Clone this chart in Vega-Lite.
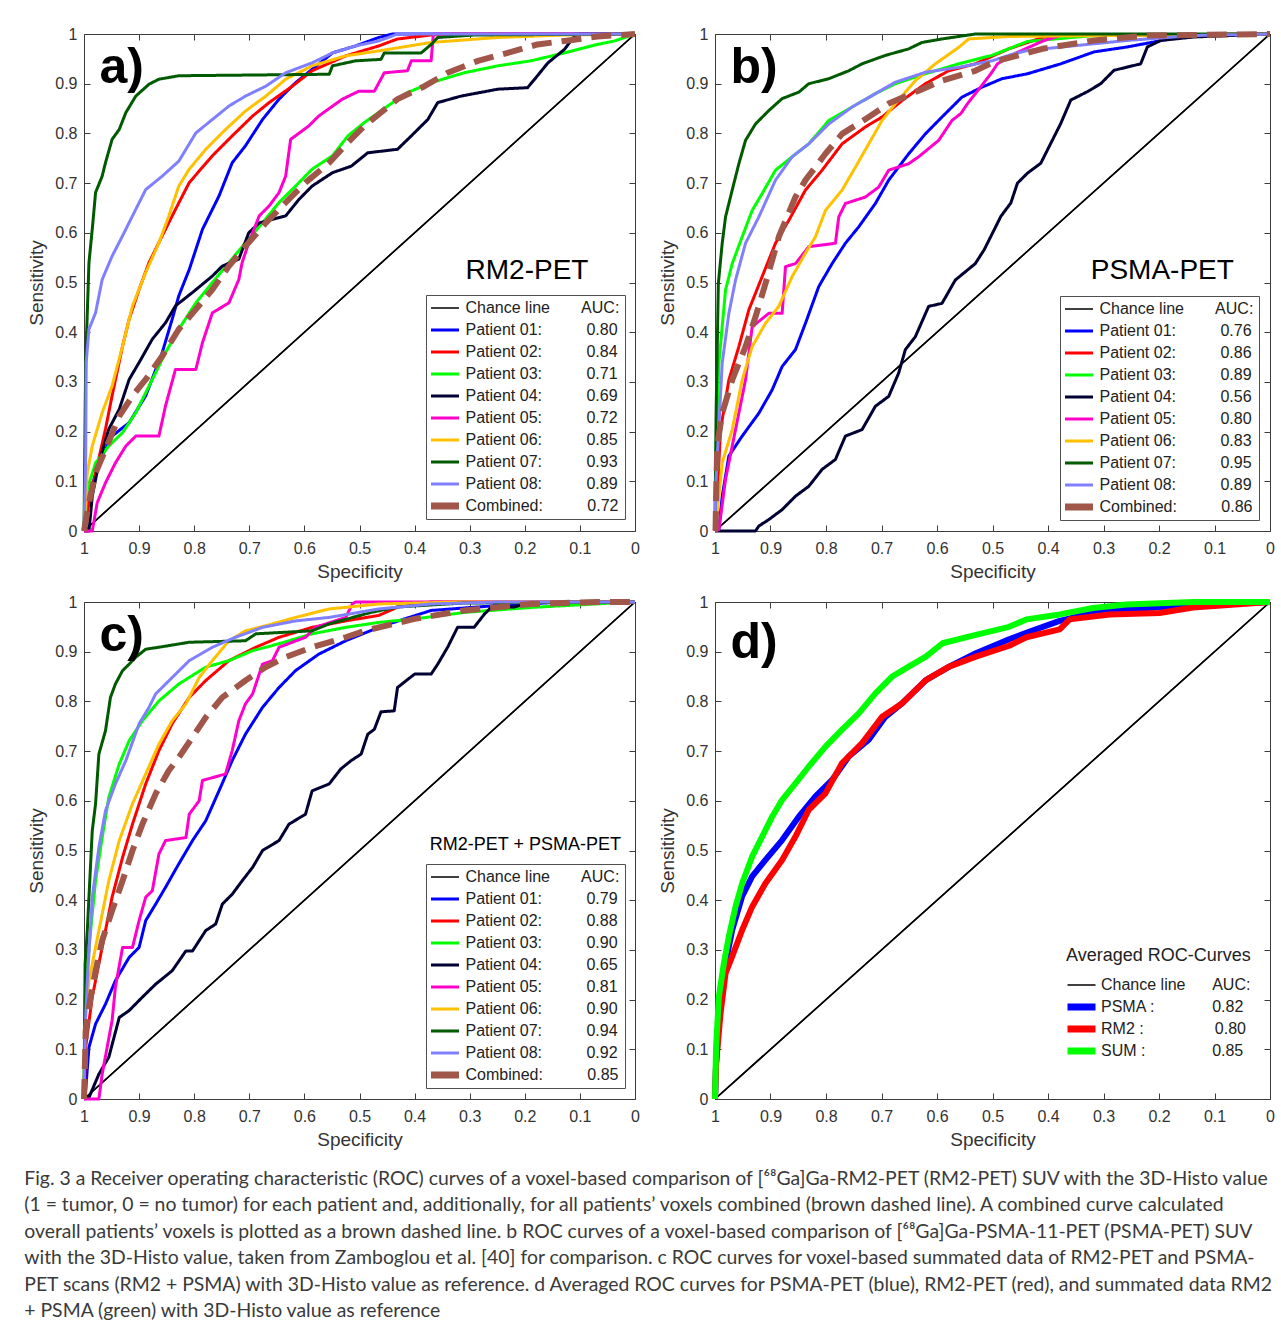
{
"$schema": "https://vega.github.io/schema/vega-lite/v6.json",
"background": "white",
"padding": {"left": 24, "top": 25, "right": 5, "bottom": 10},
"config": {
 "font": "Liberation Sans",
 "view": {"stroke": "#3c3c3c", "strokeWidth": 1},
 "axis": {"domain": false, "grid": false, "ticks": true, "tickSize": -6, "tickColor": "#3c3c3c", "tickWidth": 1, "labelFont": "Liberation Sans", "labelFontSize": 16, "labelColor": "#333333", "titleFont": "Liberation Sans", "titleFontSize": 19, "titleFontWeight": "normal", "titleColor": "#333333", "labelOverlap": false, "labelFlush": false},
 "axisX": {"labelPadding": 15, "titlePadding": 6},
 "axisY": {"labelPadding": 13, "titlePadding": 8},
 "legend": {"labelFont": "Liberation Sans", "labelFontSize": 16, "labelColor": "#222222", "labelLimit": 400, "titleLimit": 400, "symbolType": "stroke", "symbolSize": 784, "symbolStrokeWidth": 3, "clipHeight": 16, "rowPadding": 6, "titleFont": "Liberation Sans"},
 "line": {"strokeJoin": "round"}
},
"title": {
 "text": [
  "Fig. 3 a Receiver operating characteristic (ROC) curves of a voxel-based comparison of [⁶⁸Ga]Ga-RM2-PET (RM2-PET) SUV with the 3D-Histo value",
  "(1 = tumor, 0 = no tumor) for each patient and, additionally, for all patients’ voxels combined (brown dashed line). A combined curve calculated",
  "overall patients’ voxels is plotted as a brown dashed line. b ROC curves of a voxel-based comparison of [⁶⁸Ga]Ga-PSMA-11-PET (PSMA-PET) SUV",
  "with the 3D-Histo value, taken from Zamboglou et al. [40] for comparison. c ROC curves for voxel-based summated data of RM2-PET and PSMA-",
  "PET scans (RM2 + PSMA) with 3D-Histo value as reference. d Averaged ROC curves for PSMA-PET (blue), RM2-PET (red), and summated data RM2",
  "+ PSMA (green) with 3D-Histo value as reference"
 ],
 "orient": "bottom", "anchor": "start", "frame": "bounds", "font": "Lato", "fontSize": 19.4, "fontWeight": "normal", "color": "#3a3a3a", "lineHeight": 26.5, "offset": 20, "dx": -3
},
"datasets": {"roc": [
{"g":"a","k":"CH","x":1,"y":0},{"g":"a","k":"CH","x":0,"y":1},
{"g":"a","k":"P01","x":1,"y":0},{"g":"a","k":"P01","x":0.991,"y":0.07},{"g":"a","k":"P01","x":0.973,"y":0.137},{"g":"a","k":"P01","x":0.949,"y":0.191},{"g":"a","k":"P01","x":0.918,"y":0.218},{"g":"a","k":"P01","x":0.888,"y":0.272},{"g":"a","k":"P01","x":0.858,"y":0.359},{"g":"a","k":"P01","x":0.84,"y":0.426},{"g":"a","k":"P01","x":0.828,"y":0.473},{"g":"a","k":"P01","x":0.809,"y":0.526},{"g":"a","k":"P01","x":0.785,"y":0.607},{"g":"a","k":"P01","x":0.755,"y":0.674},{"g":"a","k":"P01","x":0.731,"y":0.741},{"g":"a","k":"P01","x":0.707,"y":0.775},{"g":"a","k":"P01","x":0.676,"y":0.828},{"g":"a","k":"P01","x":0.646,"y":0.869},{"g":"a","k":"P01","x":0.616,"y":0.902},{"g":"a","k":"P01","x":0.586,"y":0.929},{"g":"a","k":"P01","x":0.549,"y":0.962},{"g":"a","k":"P01","x":0.507,"y":0.976},{"g":"a","k":"P01","x":0.465,"y":0.993},{"g":"a","k":"P01","x":0.44,"y":1},{"g":"a","k":"P01","x":0,"y":1},
{"g":"a","k":"P02","x":1,"y":0},{"g":"a","k":"P02","x":0.991,"y":0.057},{"g":"a","k":"P02","x":0.979,"y":0.117},{"g":"a","k":"P02","x":0.961,"y":0.205},{"g":"a","k":"P02","x":0.949,"y":0.272},{"g":"a","k":"P02","x":0.93,"y":0.372},{"g":"a","k":"P02","x":0.918,"y":0.426},{"g":"a","k":"P02","x":0.9,"y":0.486},{"g":"a","k":"P02","x":0.882,"y":0.54},{"g":"a","k":"P02","x":0.858,"y":0.594},{"g":"a","k":"P02","x":0.834,"y":0.647},{"g":"a","k":"P02","x":0.809,"y":0.701},{"g":"a","k":"P02","x":0.767,"y":0.755},{"g":"a","k":"P02","x":0.731,"y":0.795},{"g":"a","k":"P02","x":0.694,"y":0.835},{"g":"a","k":"P02","x":0.664,"y":0.862},{"g":"a","k":"P02","x":0.622,"y":0.895},{"g":"a","k":"P02","x":0.586,"y":0.926},{"g":"a","k":"P02","x":0.525,"y":0.956},{"g":"a","k":"P02","x":0.465,"y":0.976},{"g":"a","k":"P02","x":0.431,"y":0.99},{"g":"a","k":"P02","x":0.37,"y":0.998},{"g":"a","k":"P02","x":0.33,"y":1},{"g":"a","k":"P02","x":0,"y":1},
{"g":"a","k":"P03","x":1,"y":0},{"g":"a","k":"P03","x":0.994,"y":0.084},{"g":"a","k":"P03","x":0.979,"y":0.137},{"g":"a","k":"P03","x":0.955,"y":0.171},{"g":"a","k":"P03","x":0.93,"y":0.198},{"g":"a","k":"P03","x":0.906,"y":0.238},{"g":"a","k":"P03","x":0.876,"y":0.305},{"g":"a","k":"P03","x":0.852,"y":0.359},{"g":"a","k":"P03","x":0.828,"y":0.406},{"g":"a","k":"P03","x":0.797,"y":0.459},{"g":"a","k":"P03","x":0.767,"y":0.5},{"g":"a","k":"P03","x":0.737,"y":0.54},{"g":"a","k":"P03","x":0.707,"y":0.58},{"g":"a","k":"P03","x":0.676,"y":0.62},{"g":"a","k":"P03","x":0.646,"y":0.661},{"g":"a","k":"P03","x":0.616,"y":0.694},{"g":"a","k":"P03","x":0.586,"y":0.728},{"g":"a","k":"P03","x":0.549,"y":0.755},{"g":"a","k":"P03","x":0.521,"y":0.795},{"g":"a","k":"P03","x":0.491,"y":0.822},{"g":"a","k":"P03","x":0.449,"y":0.855},{"g":"a","k":"P03","x":0.413,"y":0.882},{"g":"a","k":"P03","x":0.37,"y":0.902},{"g":"a","k":"P03","x":0.31,"y":0.922},{"g":"a","k":"P03","x":0.249,"y":0.936},{"g":"a","k":"P03","x":0.189,"y":0.946},{"g":"a","k":"P03","x":0.128,"y":0.962},{"g":"a","k":"P03","x":0.068,"y":0.979},{"g":"a","k":"P03","x":0.037,"y":0.986},{"g":"a","k":"P03","x":0,"y":1},
{"g":"a","k":"P04","x":1,"y":0},{"g":"a","k":"P04","x":0.991,"y":0},{"g":"a","k":"P04","x":0.985,"y":0.07},{"g":"a","k":"P04","x":0.973,"y":0.137},{"g":"a","k":"P04","x":0.955,"y":0.205},{"g":"a","k":"P04","x":0.936,"y":0.245},{"g":"a","k":"P04","x":0.918,"y":0.305},{"g":"a","k":"P04","x":0.9,"y":0.339},{"g":"a","k":"P04","x":0.876,"y":0.386},{"g":"a","k":"P04","x":0.852,"y":0.419},{"g":"a","k":"P04","x":0.834,"y":0.453},{"g":"a","k":"P04","x":0.803,"y":0.48},{"g":"a","k":"P04","x":0.767,"y":0.513},{"g":"a","k":"P04","x":0.749,"y":0.533},{"g":"a","k":"P04","x":0.719,"y":0.547},{"g":"a","k":"P04","x":0.701,"y":0.6},{"g":"a","k":"P04","x":0.682,"y":0.62},{"g":"a","k":"P04","x":0.634,"y":0.634},{"g":"a","k":"P04","x":0.61,"y":0.667},{"g":"a","k":"P04","x":0.586,"y":0.694},{"g":"a","k":"P04","x":0.549,"y":0.721},{"g":"a","k":"P04","x":0.515,"y":0.734},{"g":"a","k":"P04","x":0.485,"y":0.761},{"g":"a","k":"P04","x":0.431,"y":0.768},{"g":"a","k":"P04","x":0.406,"y":0.795},{"g":"a","k":"P04","x":0.376,"y":0.828},{"g":"a","k":"P04","x":0.358,"y":0.862},{"g":"a","k":"P04","x":0.316,"y":0.875},{"g":"a","k":"P04","x":0.249,"y":0.889},{"g":"a","k":"P04","x":0.195,"y":0.892},{"g":"a","k":"P04","x":0.177,"y":0.916},{"g":"a","k":"P04","x":0.158,"y":0.942},{"g":"a","k":"P04","x":0.128,"y":0.969},{"g":"a","k":"P04","x":0.11,"y":0.996},{"g":"a","k":"P04","x":0.1,"y":1},{"g":"a","k":"P04","x":0,"y":1},
{"g":"a","k":"P05","x":1,"y":0},{"g":"a","k":"P05","x":0.985,"y":0},{"g":"a","k":"P05","x":0.976,"y":0.057},{"g":"a","k":"P05","x":0.961,"y":0.097},{"g":"a","k":"P05","x":0.943,"y":0.137},{"g":"a","k":"P05","x":0.924,"y":0.171},{"g":"a","k":"P05","x":0.906,"y":0.191},{"g":"a","k":"P05","x":0.864,"y":0.191},{"g":"a","k":"P05","x":0.852,"y":0.252},{"g":"a","k":"P05","x":0.834,"y":0.325},{"g":"a","k":"P05","x":0.797,"y":0.325},{"g":"a","k":"P05","x":0.785,"y":0.379},{"g":"a","k":"P05","x":0.767,"y":0.439},{"g":"a","k":"P05","x":0.737,"y":0.459},{"g":"a","k":"P05","x":0.719,"y":0.506},{"g":"a","k":"P05","x":0.713,"y":0.54},{"g":"a","k":"P05","x":0.701,"y":0.58},{"g":"a","k":"P05","x":0.682,"y":0.634},{"g":"a","k":"P05","x":0.664,"y":0.654},{"g":"a","k":"P05","x":0.646,"y":0.681},{"g":"a","k":"P05","x":0.634,"y":0.714},{"g":"a","k":"P05","x":0.625,"y":0.788},{"g":"a","k":"P05","x":0.592,"y":0.815},{"g":"a","k":"P05","x":0.574,"y":0.835},{"g":"a","k":"P05","x":0.531,"y":0.869},{"g":"a","k":"P05","x":0.501,"y":0.885},{"g":"a","k":"P05","x":0.473,"y":0.885},{"g":"a","k":"P05","x":0.455,"y":0.922},{"g":"a","k":"P05","x":0.413,"y":0.926},{"g":"a","k":"P05","x":0.406,"y":0.946},{"g":"a","k":"P05","x":0.37,"y":0.946},{"g":"a","k":"P05","x":0.366,"y":1},{"g":"a","k":"P05","x":0,"y":1},
{"g":"a","k":"P06","x":1,"y":0},{"g":"a","k":"P06","x":0.994,"y":0.117},{"g":"a","k":"P06","x":0.985,"y":0.171},{"g":"a","k":"P06","x":0.967,"y":0.238},{"g":"a","k":"P06","x":0.949,"y":0.292},{"g":"a","k":"P06","x":0.93,"y":0.372},{"g":"a","k":"P06","x":0.912,"y":0.453},{"g":"a","k":"P06","x":0.888,"y":0.52},{"g":"a","k":"P06","x":0.864,"y":0.58},{"g":"a","k":"P06","x":0.846,"y":0.634},{"g":"a","k":"P06","x":0.828,"y":0.694},{"g":"a","k":"P06","x":0.809,"y":0.728},{"g":"a","k":"P06","x":0.779,"y":0.768},{"g":"a","k":"P06","x":0.743,"y":0.808},{"g":"a","k":"P06","x":0.707,"y":0.845},{"g":"a","k":"P06","x":0.67,"y":0.875},{"g":"a","k":"P06","x":0.634,"y":0.909},{"g":"a","k":"P06","x":0.586,"y":0.936},{"g":"a","k":"P06","x":0.525,"y":0.956},{"g":"a","k":"P06","x":0.465,"y":0.966},{"g":"a","k":"P06","x":0.37,"y":0.983},{"g":"a","k":"P06","x":0.249,"y":0.993},{"g":"a","k":"P06","x":0.128,"y":0.998},{"g":"a","k":"P06","x":0,"y":1},
{"g":"a","k":"P07","x":1,"y":0},{"g":"a","k":"P07","x":0.997,"y":0.339},{"g":"a","k":"P07","x":0.991,"y":0.54},{"g":"a","k":"P07","x":0.985,"y":0.607},{"g":"a","k":"P07","x":0.979,"y":0.681},{"g":"a","k":"P07","x":0.967,"y":0.714},{"g":"a","k":"P07","x":0.961,"y":0.741},{"g":"a","k":"P07","x":0.949,"y":0.788},{"g":"a","k":"P07","x":0.936,"y":0.808},{"g":"a","k":"P07","x":0.924,"y":0.842},{"g":"a","k":"P07","x":0.906,"y":0.875},{"g":"a","k":"P07","x":0.882,"y":0.899},{"g":"a","k":"P07","x":0.864,"y":0.909},{"g":"a","k":"P07","x":0.828,"y":0.916},{"g":"a","k":"P07","x":0.555,"y":0.919},{"g":"a","k":"P07","x":0.549,"y":0.936},{"g":"a","k":"P07","x":0.507,"y":0.946},{"g":"a","k":"P07","x":0.461,"y":0.949},{"g":"a","k":"P07","x":0.455,"y":0.962},{"g":"a","k":"P07","x":0.388,"y":0.962},{"g":"a","k":"P07","x":0.37,"y":0.979},{"g":"a","k":"P07","x":0.358,"y":0.993},{"g":"a","k":"P07","x":0.292,"y":0.998},{"g":"a","k":"P07","x":0,"y":1},
{"g":"a","k":"P08","x":1,"y":0},{"g":"a","k":"P08","x":0.997,"y":0.137},{"g":"a","k":"P08","x":0.996,"y":0.339},{"g":"a","k":"P08","x":0.991,"y":0.406},{"g":"a","k":"P08","x":0.979,"y":0.439},{"g":"a","k":"P08","x":0.967,"y":0.506},{"g":"a","k":"P08","x":0.949,"y":0.553},{"g":"a","k":"P08","x":0.93,"y":0.594},{"g":"a","k":"P08","x":0.912,"y":0.634},{"g":"a","k":"P08","x":0.888,"y":0.687},{"g":"a","k":"P08","x":0.858,"y":0.714},{"g":"a","k":"P08","x":0.828,"y":0.744},{"g":"a","k":"P08","x":0.797,"y":0.801},{"g":"a","k":"P08","x":0.767,"y":0.828},{"g":"a","k":"P08","x":0.737,"y":0.855},{"g":"a","k":"P08","x":0.707,"y":0.875},{"g":"a","k":"P08","x":0.67,"y":0.895},{"g":"a","k":"P08","x":0.634,"y":0.922},{"g":"a","k":"P08","x":0.586,"y":0.942},{"g":"a","k":"P08","x":0.549,"y":0.962},{"g":"a","k":"P08","x":0.507,"y":0.976},{"g":"a","k":"P08","x":0.465,"y":0.986},{"g":"a","k":"P08","x":0.431,"y":1},{"g":"a","k":"P08","x":0,"y":1},
{"g":"a","k":"CB","x":1,"y":0},{"g":"a","k":"CB","x":0.991,"y":0.057},{"g":"a","k":"CB","x":0.979,"y":0.117},{"g":"a","k":"CB","x":0.961,"y":0.164},{"g":"a","k":"CB","x":0.936,"y":0.231},{"g":"a","k":"CB","x":0.912,"y":0.272},{"g":"a","k":"CB","x":0.888,"y":0.305},{"g":"a","k":"CB","x":0.858,"y":0.352},{"g":"a","k":"CB","x":0.828,"y":0.406},{"g":"a","k":"CB","x":0.797,"y":0.446},{"g":"a","k":"CB","x":0.767,"y":0.486},{"g":"a","k":"CB","x":0.737,"y":0.533},{"g":"a","k":"CB","x":0.707,"y":0.573},{"g":"a","k":"CB","x":0.67,"y":0.62},{"g":"a","k":"CB","x":0.634,"y":0.661},{"g":"a","k":"CB","x":0.598,"y":0.701},{"g":"a","k":"CB","x":0.555,"y":0.741},{"g":"a","k":"CB","x":0.521,"y":0.782},{"g":"a","k":"CB","x":0.491,"y":0.815},{"g":"a","k":"CB","x":0.461,"y":0.842},{"g":"a","k":"CB","x":0.431,"y":0.869},{"g":"a","k":"CB","x":0.382,"y":0.895},{"g":"a","k":"CB","x":0.34,"y":0.922},{"g":"a","k":"CB","x":0.285,"y":0.946},{"g":"a","k":"CB","x":0.231,"y":0.962},{"g":"a","k":"CB","x":0.177,"y":0.979},{"g":"a","k":"CB","x":0.128,"y":0.986},{"g":"a","k":"CB","x":0.068,"y":0.995},{"g":"a","k":"CB","x":0,"y":1},

{"g":"b","k":"CH","x":1,"y":0},{"g":"b","k":"CH","x":0,"y":1},
{"g":"b","k":"P01","x":1,"y":0},{"g":"b","k":"P01","x":0.993,"y":0.003},{"g":"b","k":"P01","x":0.987,"y":0.07},{"g":"b","k":"P01","x":0.975,"y":0.151},{"g":"b","k":"P01","x":0.951,"y":0.191},{"g":"b","k":"P01","x":0.921,"y":0.237},{"g":"b","k":"P01","x":0.897,"y":0.284},{"g":"b","k":"P01","x":0.879,"y":0.331},{"g":"b","k":"P01","x":0.855,"y":0.365},{"g":"b","k":"P01","x":0.837,"y":0.418},{"g":"b","k":"P01","x":0.813,"y":0.492},{"g":"b","k":"P01","x":0.789,"y":0.538},{"g":"b","k":"P01","x":0.765,"y":0.579},{"g":"b","k":"P01","x":0.741,"y":0.612},{"g":"b","k":"P01","x":0.711,"y":0.659},{"g":"b","k":"P01","x":0.687,"y":0.706},{"g":"b","k":"P01","x":0.651,"y":0.759},{"g":"b","k":"P01","x":0.621,"y":0.799},{"g":"b","k":"P01","x":0.591,"y":0.833},{"g":"b","k":"P01","x":0.555,"y":0.873},{"g":"b","k":"P01","x":0.519,"y":0.893},{"g":"b","k":"P01","x":0.483,"y":0.91},{"g":"b","k":"P01","x":0.437,"y":0.92},{"g":"b","k":"P01","x":0.377,"y":0.94},{"g":"b","k":"P01","x":0.317,"y":0.964},{"g":"b","k":"P01","x":0.257,"y":0.974},{"g":"b","k":"P01","x":0.209,"y":0.984},{"g":"b","k":"P01","x":0.167,"y":0.994},{"g":"b","k":"P01","x":0.137,"y":0.997},{"g":"b","k":"P01","x":0,"y":1},
{"g":"b","k":"P02","x":1,"y":0},{"g":"b","k":"P02","x":0.996,"y":0.07},{"g":"b","k":"P02","x":0.99,"y":0.204},{"g":"b","k":"P02","x":0.975,"y":0.304},{"g":"b","k":"P02","x":0.957,"y":0.371},{"g":"b","k":"P02","x":0.939,"y":0.445},{"g":"b","k":"P02","x":0.915,"y":0.512},{"g":"b","k":"P02","x":0.891,"y":0.579},{"g":"b","k":"P02","x":0.867,"y":0.625},{"g":"b","k":"P02","x":0.837,"y":0.686},{"g":"b","k":"P02","x":0.807,"y":0.726},{"g":"b","k":"P02","x":0.771,"y":0.779},{"g":"b","k":"P02","x":0.729,"y":0.813},{"g":"b","k":"P02","x":0.699,"y":0.833},{"g":"b","k":"P02","x":0.663,"y":0.866},{"g":"b","k":"P02","x":0.621,"y":0.9},{"g":"b","k":"P02","x":0.579,"y":0.926},{"g":"b","k":"P02","x":0.531,"y":0.94},{"g":"b","k":"P02","x":0.471,"y":0.97},{"g":"b","k":"P02","x":0.407,"y":0.994},{"g":"b","k":"P02","x":0.347,"y":0.997},{"g":"b","k":"P02","x":0,"y":1},
{"g":"b","k":"P03","x":1,"y":0},{"g":"b","k":"P03","x":0.999,"y":0.137},{"g":"b","k":"P03","x":0.993,"y":0.338},{"g":"b","k":"P03","x":0.981,"y":0.485},{"g":"b","k":"P03","x":0.969,"y":0.538},{"g":"b","k":"P03","x":0.951,"y":0.592},{"g":"b","k":"P03","x":0.933,"y":0.645},{"g":"b","k":"P03","x":0.915,"y":0.679},{"g":"b","k":"P03","x":0.891,"y":0.726},{"g":"b","k":"P03","x":0.861,"y":0.753},{"g":"b","k":"P03","x":0.831,"y":0.779},{"g":"b","k":"P03","x":0.795,"y":0.826},{"g":"b","k":"P03","x":0.753,"y":0.853},{"g":"b","k":"P03","x":0.711,"y":0.88},{"g":"b","k":"P03","x":0.675,"y":0.9},{"g":"b","k":"P03","x":0.621,"y":0.92},{"g":"b","k":"P03","x":0.561,"y":0.94},{"g":"b","k":"P03","x":0.501,"y":0.957},{"g":"b","k":"P03","x":0.437,"y":0.985},{"g":"b","k":"P03","x":0.317,"y":0.997},{"g":"b","k":"P03","x":0,"y":1},
{"g":"b","k":"P04","x":1,"y":0},{"g":"b","k":"P04","x":0.927,"y":0},{"g":"b","k":"P04","x":0.921,"y":0.01},{"g":"b","k":"P04","x":0.903,"y":0.023},{"g":"b","k":"P04","x":0.879,"y":0.043},{"g":"b","k":"P04","x":0.855,"y":0.07},{"g":"b","k":"P04","x":0.831,"y":0.09},{"g":"b","k":"P04","x":0.807,"y":0.124},{"g":"b","k":"P04","x":0.783,"y":0.144},{"g":"b","k":"P04","x":0.765,"y":0.191},{"g":"b","k":"P04","x":0.735,"y":0.204},{"g":"b","k":"P04","x":0.711,"y":0.251},{"g":"b","k":"P04","x":0.687,"y":0.271},{"g":"b","k":"P04","x":0.669,"y":0.318},{"g":"b","k":"P04","x":0.657,"y":0.365},{"g":"b","k":"P04","x":0.639,"y":0.391},{"g":"b","k":"P04","x":0.615,"y":0.452},{"g":"b","k":"P04","x":0.591,"y":0.458},{"g":"b","k":"P04","x":0.567,"y":0.505},{"g":"b","k":"P04","x":0.531,"y":0.538},{"g":"b","k":"P04","x":0.515,"y":0.566},{"g":"b","k":"P04","x":0.497,"y":0.606},{"g":"b","k":"P04","x":0.485,"y":0.633},{"g":"b","k":"P04","x":0.467,"y":0.66},{"g":"b","k":"P04","x":0.455,"y":0.7},{"g":"b","k":"P04","x":0.437,"y":0.72},{"g":"b","k":"P04","x":0.413,"y":0.74},{"g":"b","k":"P04","x":0.395,"y":0.78},{"g":"b","k":"P04","x":0.377,"y":0.82},{"g":"b","k":"P04","x":0.359,"y":0.867},{"g":"b","k":"P04","x":0.329,"y":0.884},{"g":"b","k":"P04","x":0.305,"y":0.9},{"g":"b","k":"P04","x":0.281,"y":0.927},{"g":"b","k":"P04","x":0.233,"y":0.94},{"g":"b","k":"P04","x":0.221,"y":0.974},{"g":"b","k":"P04","x":0.197,"y":0.987},{"g":"b","k":"P04","x":0.137,"y":0.994},{"g":"b","k":"P04","x":0,"y":1},
{"g":"b","k":"P05","x":1,"y":0},{"g":"b","k":"P05","x":0.993,"y":0.003},{"g":"b","k":"P05","x":0.981,"y":0.104},{"g":"b","k":"P05","x":0.963,"y":0.204},{"g":"b","k":"P05","x":0.945,"y":0.304},{"g":"b","k":"P05","x":0.933,"y":0.411},{"g":"b","k":"P05","x":0.903,"y":0.438},{"g":"b","k":"P05","x":0.879,"y":0.438},{"g":"b","k":"P05","x":0.873,"y":0.532},{"g":"b","k":"P05","x":0.855,"y":0.538},{"g":"b","k":"P05","x":0.831,"y":0.572},{"g":"b","k":"P05","x":0.783,"y":0.579},{"g":"b","k":"P05","x":0.777,"y":0.632},{"g":"b","k":"P05","x":0.765,"y":0.659},{"g":"b","k":"P05","x":0.729,"y":0.672},{"g":"b","k":"P05","x":0.705,"y":0.692},{"g":"b","k":"P05","x":0.687,"y":0.726},{"g":"b","k":"P05","x":0.651,"y":0.739},{"g":"b","k":"P05","x":0.633,"y":0.753},{"g":"b","k":"P05","x":0.597,"y":0.786},{"g":"b","k":"P05","x":0.573,"y":0.826},{"g":"b","k":"P05","x":0.557,"y":0.84},{"g":"b","k":"P05","x":0.545,"y":0.86},{"g":"b","k":"P05","x":0.521,"y":0.894},{"g":"b","k":"P05","x":0.503,"y":0.92},{"g":"b","k":"P05","x":0.491,"y":0.94},{"g":"b","k":"P05","x":0.467,"y":0.957},{"g":"b","k":"P05","x":0.407,"y":0.987},{"g":"b","k":"P05","x":0.377,"y":0.997},{"g":"b","k":"P05","x":0,"y":1},
{"g":"b","k":"P06","x":1,"y":0},{"g":"b","k":"P06","x":0.996,"y":0.037},{"g":"b","k":"P06","x":0.987,"y":0.137},{"g":"b","k":"P06","x":0.969,"y":0.204},{"g":"b","k":"P06","x":0.951,"y":0.304},{"g":"b","k":"P06","x":0.933,"y":0.371},{"g":"b","k":"P06","x":0.909,"y":0.418},{"g":"b","k":"P06","x":0.885,"y":0.452},{"g":"b","k":"P06","x":0.861,"y":0.512},{"g":"b","k":"P06","x":0.837,"y":0.559},{"g":"b","k":"P06","x":0.819,"y":0.592},{"g":"b","k":"P06","x":0.801,"y":0.645},{"g":"b","k":"P06","x":0.771,"y":0.686},{"g":"b","k":"P06","x":0.747,"y":0.732},{"g":"b","k":"P06","x":0.723,"y":0.779},{"g":"b","k":"P06","x":0.699,"y":0.826},{"g":"b","k":"P06","x":0.675,"y":0.86},{"g":"b","k":"P06","x":0.639,"y":0.906},{"g":"b","k":"P06","x":0.603,"y":0.94},{"g":"b","k":"P06","x":0.561,"y":0.973},{"g":"b","k":"P06","x":0.543,"y":0.99},{"g":"b","k":"P06","x":0.471,"y":0.995},{"g":"b","k":"P06","x":0,"y":1},
{"g":"b","k":"P07","x":1,"y":0},{"g":"b","k":"P07","x":0.998,"y":0.237},{"g":"b","k":"P07","x":0.994,"y":0.498},{"g":"b","k":"P07","x":0.987,"y":0.579},{"g":"b","k":"P07","x":0.981,"y":0.632},{"g":"b","k":"P07","x":0.969,"y":0.686},{"g":"b","k":"P07","x":0.957,"y":0.739},{"g":"b","k":"P07","x":0.945,"y":0.786},{"g":"b","k":"P07","x":0.927,"y":0.819},{"g":"b","k":"P07","x":0.903,"y":0.846},{"g":"b","k":"P07","x":0.879,"y":0.87},{"g":"b","k":"P07","x":0.849,"y":0.883},{"g":"b","k":"P07","x":0.831,"y":0.9},{"g":"b","k":"P07","x":0.795,"y":0.91},{"g":"b","k":"P07","x":0.759,"y":0.926},{"g":"b","k":"P07","x":0.735,"y":0.94},{"g":"b","k":"P07","x":0.693,"y":0.957},{"g":"b","k":"P07","x":0.651,"y":0.97},{"g":"b","k":"P07","x":0.627,"y":0.983},{"g":"b","k":"P07","x":0.591,"y":0.99},{"g":"b","k":"P07","x":0.531,"y":1},{"g":"b","k":"P07","x":0,"y":1},
{"g":"b","k":"P08","x":1,"y":0},{"g":"b","k":"P08","x":0.999,"y":0.084},{"g":"b","k":"P08","x":0.987,"y":0.338},{"g":"b","k":"P08","x":0.975,"y":0.438},{"g":"b","k":"P08","x":0.963,"y":0.505},{"g":"b","k":"P08","x":0.945,"y":0.579},{"g":"b","k":"P08","x":0.921,"y":0.632},{"g":"b","k":"P08","x":0.891,"y":0.706},{"g":"b","k":"P08","x":0.861,"y":0.753},{"g":"b","k":"P08","x":0.831,"y":0.779},{"g":"b","k":"P08","x":0.795,"y":0.819},{"g":"b","k":"P08","x":0.753,"y":0.853},{"g":"b","k":"P08","x":0.711,"y":0.88},{"g":"b","k":"P08","x":0.675,"y":0.903},{"g":"b","k":"P08","x":0.621,"y":0.923},{"g":"b","k":"P08","x":0.561,"y":0.933},{"g":"b","k":"P08","x":0.501,"y":0.946},{"g":"b","k":"P08","x":0.471,"y":0.957},{"g":"b","k":"P08","x":0.437,"y":0.967},{"g":"b","k":"P08","x":0.257,"y":0.987},{"g":"b","k":"P08","x":0.137,"y":0.997},{"g":"b","k":"P08","x":0,"y":1},
{"g":"b","k":"CB","x":1,"y":0},{"g":"b","k":"CB","x":0.999,"y":0.003},{"g":"b","k":"CB","x":0.998,"y":0.07},{"g":"b","k":"CB","x":0.996,"y":0.171},{"g":"b","k":"CB","x":0.987,"y":0.237},{"g":"b","k":"CB","x":0.969,"y":0.304},{"g":"b","k":"CB","x":0.945,"y":0.371},{"g":"b","k":"CB","x":0.927,"y":0.431},{"g":"b","k":"CB","x":0.909,"y":0.498},{"g":"b","k":"CB","x":0.885,"y":0.592},{"g":"b","k":"CB","x":0.855,"y":0.672},{"g":"b","k":"CB","x":0.837,"y":0.706},{"g":"b","k":"CB","x":0.801,"y":0.759},{"g":"b","k":"CB","x":0.771,"y":0.799},{"g":"b","k":"CB","x":0.723,"y":0.833},{"g":"b","k":"CB","x":0.687,"y":0.86},{"g":"b","k":"CB","x":0.633,"y":0.886},{"g":"b","k":"CB","x":0.591,"y":0.906},{"g":"b","k":"CB","x":0.531,"y":0.926},{"g":"b","k":"CB","x":0.497,"y":0.944},{"g":"b","k":"CB","x":0.407,"y":0.971},{"g":"b","k":"CB","x":0.317,"y":0.987},{"g":"b","k":"CB","x":0.221,"y":0.997},{"g":"b","k":"CB","x":0,"y":1},

{"g":"c","k":"CH","x":1,"y":0},{"g":"c","k":"CH","x":0,"y":1},
{"g":"c","k":"P01","x":1,"y":0},{"g":"c","k":"P01","x":0.997,"y":0.017},{"g":"c","k":"P01","x":0.991,"y":0.104},{"g":"c","k":"P01","x":0.979,"y":0.151},{"g":"c","k":"P01","x":0.961,"y":0.191},{"g":"c","k":"P01","x":0.943,"y":0.238},{"g":"c","k":"P01","x":0.918,"y":0.285},{"g":"c","k":"P01","x":0.9,"y":0.305},{"g":"c","k":"P01","x":0.888,"y":0.359},{"g":"c","k":"P01","x":0.87,"y":0.392},{"g":"c","k":"P01","x":0.852,"y":0.426},{"g":"c","k":"P01","x":0.828,"y":0.473},{"g":"c","k":"P01","x":0.803,"y":0.52},{"g":"c","k":"P01","x":0.779,"y":0.56},{"g":"c","k":"P01","x":0.755,"y":0.62},{"g":"c","k":"P01","x":0.731,"y":0.681},{"g":"c","k":"P01","x":0.707,"y":0.734},{"g":"c","k":"P01","x":0.676,"y":0.788},{"g":"c","k":"P01","x":0.646,"y":0.828},{"g":"c","k":"P01","x":0.616,"y":0.862},{"g":"c","k":"P01","x":0.574,"y":0.895},{"g":"c","k":"P01","x":0.525,"y":0.922},{"g":"c","k":"P01","x":0.463,"y":0.95},{"g":"c","k":"P01","x":0.37,"y":0.983},{"g":"c","k":"P01","x":0.249,"y":0.993},{"g":"c","k":"P01","x":0.128,"y":1},{"g":"c","k":"P01","x":0,"y":1},
{"g":"c","k":"P02","x":1,"y":0},{"g":"c","k":"P02","x":0.997,"y":0.104},{"g":"c","k":"P02","x":0.985,"y":0.205},{"g":"c","k":"P02","x":0.973,"y":0.272},{"g":"c","k":"P02","x":0.961,"y":0.339},{"g":"c","k":"P02","x":0.949,"y":0.406},{"g":"c","k":"P02","x":0.93,"y":0.486},{"g":"c","k":"P02","x":0.912,"y":0.553},{"g":"c","k":"P02","x":0.888,"y":0.634},{"g":"c","k":"P02","x":0.864,"y":0.701},{"g":"c","k":"P02","x":0.84,"y":0.755},{"g":"c","k":"P02","x":0.809,"y":0.808},{"g":"c","k":"P02","x":0.779,"y":0.842},{"g":"c","k":"P02","x":0.737,"y":0.882},{"g":"c","k":"P02","x":0.688,"y":0.909},{"g":"c","k":"P02","x":0.646,"y":0.929},{"g":"c","k":"P02","x":0.586,"y":0.949},{"g":"c","k":"P02","x":0.525,"y":0.962},{"g":"c","k":"P02","x":0.465,"y":0.973},{"g":"c","k":"P02","x":0.43,"y":0.99},{"g":"c","k":"P02","x":0.37,"y":1},{"g":"c","k":"P02","x":0,"y":1},
{"g":"c","k":"P03","x":1,"y":0},{"g":"c","k":"P03","x":0.998,"y":0.205},{"g":"c","k":"P03","x":0.991,"y":0.305},{"g":"c","k":"P03","x":0.979,"y":0.439},{"g":"c","k":"P03","x":0.967,"y":0.526},{"g":"c","k":"P03","x":0.955,"y":0.607},{"g":"c","k":"P03","x":0.936,"y":0.674},{"g":"c","k":"P03","x":0.918,"y":0.721},{"g":"c","k":"P03","x":0.894,"y":0.761},{"g":"c","k":"P03","x":0.864,"y":0.801},{"g":"c","k":"P03","x":0.828,"y":0.835},{"g":"c","k":"P03","x":0.779,"y":0.869},{"g":"c","k":"P03","x":0.737,"y":0.882},{"g":"c","k":"P03","x":0.694,"y":0.902},{"g":"c","k":"P03","x":0.646,"y":0.916},{"g":"c","k":"P03","x":0.586,"y":0.936},{"g":"c","k":"P03","x":0.525,"y":0.949},{"g":"c","k":"P03","x":0.465,"y":0.959},{"g":"c","k":"P03","x":0.4,"y":0.966},{"g":"c","k":"P03","x":0.31,"y":0.979},{"g":"c","k":"P03","x":0.189,"y":0.989},{"g":"c","k":"P03","x":0.007,"y":1},{"g":"c","k":"P03","x":0,"y":1},
{"g":"c","k":"P04","x":1,"y":0},{"g":"c","k":"P04","x":0.991,"y":0.003},{"g":"c","k":"P04","x":0.973,"y":0.05},{"g":"c","k":"P04","x":0.955,"y":0.084},{"g":"c","k":"P04","x":0.936,"y":0.164},{"g":"c","k":"P04","x":0.918,"y":0.178},{"g":"c","k":"P04","x":0.894,"y":0.205},{"g":"c","k":"P04","x":0.87,"y":0.231},{"g":"c","k":"P04","x":0.84,"y":0.258},{"g":"c","k":"P04","x":0.815,"y":0.298},{"g":"c","k":"P04","x":0.803,"y":0.298},{"g":"c","k":"P04","x":0.779,"y":0.339},{"g":"c","k":"P04","x":0.761,"y":0.352},{"g":"c","k":"P04","x":0.749,"y":0.392},{"g":"c","k":"P04","x":0.731,"y":0.412},{"g":"c","k":"P04","x":0.713,"y":0.439},{"g":"c","k":"P04","x":0.694,"y":0.466},{"g":"c","k":"P04","x":0.676,"y":0.5},{"g":"c","k":"P04","x":0.646,"y":0.52},{"g":"c","k":"P04","x":0.628,"y":0.553},{"g":"c","k":"P04","x":0.598,"y":0.573},{"g":"c","k":"P04","x":0.586,"y":0.62},{"g":"c","k":"P04","x":0.555,"y":0.634},{"g":"c","k":"P04","x":0.534,"y":0.664},{"g":"c","k":"P04","x":0.515,"y":0.681},{"g":"c","k":"P04","x":0.497,"y":0.694},{"g":"c","k":"P04","x":0.485,"y":0.734},{"g":"c","k":"P04","x":0.473,"y":0.744},{"g":"c","k":"P04","x":0.461,"y":0.779},{"g":"c","k":"P04","x":0.437,"y":0.781},{"g":"c","k":"P04","x":0.431,"y":0.828},{"g":"c","k":"P04","x":0.4,"y":0.855},{"g":"c","k":"P04","x":0.37,"y":0.855},{"g":"c","k":"P04","x":0.358,"y":0.875},{"g":"c","k":"P04","x":0.34,"y":0.909},{"g":"c","k":"P04","x":0.322,"y":0.949},{"g":"c","k":"P04","x":0.292,"y":0.949},{"g":"c","k":"P04","x":0.273,"y":0.976},{"g":"c","k":"P04","x":0.261,"y":0.989},{"g":"c","k":"P04","x":0.219,"y":0.99},{"g":"c","k":"P04","x":0.189,"y":1},{"g":"c","k":"P04","x":0,"y":1},
{"g":"c","k":"P05","x":1,"y":0},{"g":"c","k":"P05","x":0.973,"y":0},{"g":"c","k":"P05","x":0.967,"y":0.05},{"g":"c","k":"P05","x":0.949,"y":0.158},{"g":"c","k":"P05","x":0.943,"y":0.225},{"g":"c","k":"P05","x":0.93,"y":0.305},{"g":"c","k":"P05","x":0.912,"y":0.305},{"g":"c","k":"P05","x":0.9,"y":0.359},{"g":"c","k":"P05","x":0.888,"y":0.406},{"g":"c","k":"P05","x":0.876,"y":0.419},{"g":"c","k":"P05","x":0.864,"y":0.493},{"g":"c","k":"P05","x":0.852,"y":0.52},{"g":"c","k":"P05","x":0.815,"y":0.526},{"g":"c","k":"P05","x":0.809,"y":0.573},{"g":"c","k":"P05","x":0.791,"y":0.6},{"g":"c","k":"P05","x":0.785,"y":0.641},{"g":"c","k":"P05","x":0.743,"y":0.654},{"g":"c","k":"P05","x":0.731,"y":0.701},{"g":"c","k":"P05","x":0.719,"y":0.761},{"g":"c","k":"P05","x":0.707,"y":0.795},{"g":"c","k":"P05","x":0.694,"y":0.815},{"g":"c","k":"P05","x":0.676,"y":0.875},{"g":"c","k":"P05","x":0.658,"y":0.882},{"g":"c","k":"P05","x":0.646,"y":0.909},{"g":"c","k":"P05","x":0.598,"y":0.929},{"g":"c","k":"P05","x":0.58,"y":0.949},{"g":"c","k":"P05","x":0.525,"y":0.969},{"g":"c","k":"P05","x":0.513,"y":0.996},{"g":"c","k":"P05","x":0.507,"y":1},{"g":"c","k":"P05","x":0,"y":1},
{"g":"c","k":"P06","x":1,"y":0},{"g":"c","k":"P06","x":0.998,"y":0.171},{"g":"c","k":"P06","x":0.991,"y":0.238},{"g":"c","k":"P06","x":0.973,"y":0.339},{"g":"c","k":"P06","x":0.955,"y":0.439},{"g":"c","k":"P06","x":0.936,"y":0.52},{"g":"c","k":"P06","x":0.912,"y":0.594},{"g":"c","k":"P06","x":0.888,"y":0.654},{"g":"c","k":"P06","x":0.864,"y":0.714},{"g":"c","k":"P06","x":0.84,"y":0.761},{"g":"c","k":"P06","x":0.815,"y":0.795},{"g":"c","k":"P06","x":0.791,"y":0.848},{"g":"c","k":"P06","x":0.767,"y":0.882},{"g":"c","k":"P06","x":0.737,"y":0.922},{"g":"c","k":"P06","x":0.707,"y":0.942},{"g":"c","k":"P06","x":0.658,"y":0.956},{"g":"c","k":"P06","x":0.616,"y":0.969},{"g":"c","k":"P06","x":0.555,"y":0.986},{"g":"c","k":"P06","x":0.465,"y":0.996},{"g":"c","k":"P06","x":0.322,"y":1},{"g":"c","k":"P06","x":0,"y":1},
{"g":"c","k":"P07","x":1,"y":0},{"g":"c","k":"P07","x":0.998,"y":0.272},{"g":"c","k":"P07","x":0.994,"y":0.339},{"g":"c","k":"P07","x":0.988,"y":0.473},{"g":"c","k":"P07","x":0.985,"y":0.54},{"g":"c","k":"P07","x":0.979,"y":0.594},{"g":"c","k":"P07","x":0.973,"y":0.694},{"g":"c","k":"P07","x":0.961,"y":0.741},{"g":"c","k":"P07","x":0.952,"y":0.808},{"g":"c","k":"P07","x":0.943,"y":0.835},{"g":"c","k":"P07","x":0.93,"y":0.862},{"g":"c","k":"P07","x":0.918,"y":0.875},{"g":"c","k":"P07","x":0.906,"y":0.889},{"g":"c","k":"P07","x":0.888,"y":0.905},{"g":"c","k":"P07","x":0.864,"y":0.909},{"g":"c","k":"P07","x":0.809,"y":0.919},{"g":"c","k":"P07","x":0.707,"y":0.922},{"g":"c","k":"P07","x":0.688,"y":0.936},{"g":"c","k":"P07","x":0.586,"y":0.942},{"g":"c","k":"P07","x":0.555,"y":0.956},{"g":"c","k":"P07","x":0.479,"y":0.979},{"g":"c","k":"P07","x":0.431,"y":0.99},{"g":"c","k":"P07","x":0.31,"y":0.998},{"g":"c","k":"P07","x":0,"y":1},
{"g":"c","k":"P08","x":1,"y":0},{"g":"c","k":"P08","x":0.998,"y":0.137},{"g":"c","k":"P08","x":0.994,"y":0.238},{"g":"c","k":"P08","x":0.985,"y":0.406},{"g":"c","k":"P08","x":0.973,"y":0.506},{"g":"c","k":"P08","x":0.961,"y":0.58},{"g":"c","k":"P08","x":0.943,"y":0.634},{"g":"c","k":"P08","x":0.924,"y":0.681},{"g":"c","k":"P08","x":0.9,"y":0.755},{"g":"c","k":"P08","x":0.882,"y":0.788},{"g":"c","k":"P08","x":0.87,"y":0.815},{"g":"c","k":"P08","x":0.84,"y":0.848},{"g":"c","k":"P08","x":0.809,"y":0.882},{"g":"c","k":"P08","x":0.767,"y":0.909},{"g":"c","k":"P08","x":0.725,"y":0.929},{"g":"c","k":"P08","x":0.676,"y":0.949},{"g":"c","k":"P08","x":0.616,"y":0.962},{"g":"c","k":"P08","x":0.555,"y":0.969},{"g":"c","k":"P08","x":0.465,"y":0.986},{"g":"c","k":"P08","x":0.37,"y":0.996},{"g":"c","k":"P08","x":0.249,"y":1},{"g":"c","k":"P08","x":0,"y":1},
{"g":"c","k":"CB","x":1,"y":0},{"g":"c","k":"CB","x":0.998,"y":0.084},{"g":"c","k":"CB","x":0.997,"y":0.137},{"g":"c","k":"CB","x":0.988,"y":0.205},{"g":"c","k":"CB","x":0.979,"y":0.258},{"g":"c","k":"CB","x":0.967,"y":0.319},{"g":"c","k":"CB","x":0.949,"y":0.379},{"g":"c","k":"CB","x":0.93,"y":0.439},{"g":"c","k":"CB","x":0.912,"y":0.5},{"g":"c","k":"CB","x":0.894,"y":0.553},{"g":"c","k":"CB","x":0.87,"y":0.614},{"g":"c","k":"CB","x":0.846,"y":0.661},{"g":"c","k":"CB","x":0.828,"y":0.687},{"g":"c","k":"CB","x":0.803,"y":0.728},{"g":"c","k":"CB","x":0.779,"y":0.768},{"g":"c","k":"CB","x":0.749,"y":0.808},{"g":"c","k":"CB","x":0.707,"y":0.842},{"g":"c","k":"CB","x":0.67,"y":0.869},{"g":"c","k":"CB","x":0.634,"y":0.889},{"g":"c","k":"CB","x":0.586,"y":0.909},{"g":"c","k":"CB","x":0.525,"y":0.929},{"g":"c","k":"CB","x":0.491,"y":0.942},{"g":"c","k":"CB","x":0.4,"y":0.966},{"g":"c","k":"CB","x":0.31,"y":0.983},{"g":"c","k":"CB","x":0.189,"y":0.996},{"g":"c","k":"CB","x":0.068,"y":1},{"g":"c","k":"CB","x":0,"y":1},

{"g":"d","k":"CH","x":1,"y":0},{"g":"d","k":"CH","x":0,"y":1},
{"g":"d","k":"PSMA","x":1,"y":0},{"g":"d","k":"PSMA","x":0.998,"y":0.072},{"g":"d","k":"PSMA","x":0.99,"y":0.206},{"g":"d","k":"PSMA","x":0.981,"y":0.273},{"g":"d","k":"PSMA","x":0.969,"y":0.34},{"g":"d","k":"PSMA","x":0.951,"y":0.408},{"g":"d","k":"PSMA","x":0.933,"y":0.448},{"g":"d","k":"PSMA","x":0.909,"y":0.481},{"g":"d","k":"PSMA","x":0.879,"y":0.521},{"g":"d","k":"PSMA","x":0.849,"y":0.568},{"g":"d","k":"PSMA","x":0.819,"y":0.609},{"g":"d","k":"PSMA","x":0.789,"y":0.642},{"g":"d","k":"PSMA","x":0.759,"y":0.689},{"g":"d","k":"PSMA","x":0.723,"y":0.723},{"g":"d","k":"PSMA","x":0.693,"y":0.769},{"g":"d","k":"PSMA","x":0.663,"y":0.796},{"g":"d","k":"PSMA","x":0.62,"y":0.843},{"g":"d","k":"PSMA","x":0.578,"y":0.87},{"g":"d","k":"PSMA","x":0.53,"y":0.897},{"g":"d","k":"PSMA","x":0.47,"y":0.925},{"g":"d","k":"PSMA","x":0.439,"y":0.938},{"g":"d","k":"PSMA","x":0.379,"y":0.962},{"g":"d","k":"PSMA","x":0.319,"y":0.978},{"g":"d","k":"PSMA","x":0.259,"y":0.985},{"g":"d","k":"PSMA","x":0.169,"y":0.992},{"g":"d","k":"PSMA","x":0,"y":1},
{"g":"d","k":"RM2","x":1,"y":0},{"g":"d","k":"RM2","x":0.998,"y":0.072},{"g":"d","k":"RM2","x":0.99,"y":0.173},{"g":"d","k":"RM2","x":0.981,"y":0.253},{"g":"d","k":"RM2","x":0.969,"y":0.287},{"g":"d","k":"RM2","x":0.951,"y":0.34},{"g":"d","k":"RM2","x":0.933,"y":0.387},{"g":"d","k":"RM2","x":0.909,"y":0.434},{"g":"d","k":"RM2","x":0.879,"y":0.481},{"g":"d","k":"RM2","x":0.855,"y":0.528},{"g":"d","k":"RM2","x":0.831,"y":0.582},{"g":"d","k":"RM2","x":0.801,"y":0.615},{"g":"d","k":"RM2","x":0.771,"y":0.676},{"g":"d","k":"RM2","x":0.735,"y":0.716},{"g":"d","k":"RM2","x":0.699,"y":0.769},{"g":"d","k":"RM2","x":0.663,"y":0.796},{"g":"d","k":"RM2","x":0.62,"y":0.843},{"g":"d","k":"RM2","x":0.578,"y":0.87},{"g":"d","k":"RM2","x":0.53,"y":0.89},{"g":"d","k":"RM2","x":0.47,"y":0.912},{"g":"d","k":"RM2","x":0.439,"y":0.929},{"g":"d","k":"RM2","x":0.379,"y":0.945},{"g":"d","k":"RM2","x":0.361,"y":0.965},{"g":"d","k":"RM2","x":0.289,"y":0.975},{"g":"d","k":"RM2","x":0.199,"y":0.978},{"g":"d","k":"RM2","x":0.139,"y":0.989},{"g":"d","k":"RM2","x":0,"y":1},
{"g":"d","k":"SUM","x":1,"y":0},{"g":"d","k":"SUM","x":0.998,"y":0.106},{"g":"d","k":"SUM","x":0.993,"y":0.206},{"g":"d","k":"SUM","x":0.984,"y":0.273},{"g":"d","k":"SUM","x":0.975,"y":0.327},{"g":"d","k":"SUM","x":0.963,"y":0.387},{"g":"d","k":"SUM","x":0.951,"y":0.434},{"g":"d","k":"SUM","x":0.933,"y":0.488},{"g":"d","k":"SUM","x":0.915,"y":0.528},{"g":"d","k":"SUM","x":0.897,"y":0.568},{"g":"d","k":"SUM","x":0.879,"y":0.602},{"g":"d","k":"SUM","x":0.855,"y":0.635},{"g":"d","k":"SUM","x":0.831,"y":0.669},{"g":"d","k":"SUM","x":0.801,"y":0.709},{"g":"d","k":"SUM","x":0.771,"y":0.743},{"g":"d","k":"SUM","x":0.741,"y":0.776},{"g":"d","k":"SUM","x":0.711,"y":0.816},{"g":"d","k":"SUM","x":0.681,"y":0.85},{"g":"d","k":"SUM","x":0.651,"y":0.87},{"g":"d","k":"SUM","x":0.62,"y":0.89},{"g":"d","k":"SUM","x":0.59,"y":0.917},{"g":"d","k":"SUM","x":0.53,"y":0.934},{"g":"d","k":"SUM","x":0.47,"y":0.95},{"g":"d","k":"SUM","x":0.439,"y":0.965},{"g":"d","k":"SUM","x":0.379,"y":0.975},{"g":"d","k":"SUM","x":0.319,"y":0.988},{"g":"d","k":"SUM","x":0.259,"y":0.995},{"g":"d","k":"SUM","x":0.138,"y":1},{"g":"d","k":"SUM","x":0,"y":1}
]},
"columns": 2,
"spacing": {"row": 71, "column": 80},
"bounds": "flush",
"resolve": {"scale": {"color": "independent"}},
"concat": [
 {
  "width": 551, "height": 497,
  "data": {"name": "roc"},
  "layer": [
   {"transform": [{"filter": "datum.g==='a' && datum.k==='CH'"}],
    "mark": {"type": "line", "color": "black", "strokeWidth": 1.5},
    "encoding": {
     "x": {"field": "x", "type": "quantitative", "scale": {"domain": [0, 1], "reverse": true, "nice": false}, "axis": {"orient": "top", "labels": false, "title": null, "values": [0,0.1,0.2,0.3,0.4,0.5,0.6,0.7,0.8,0.9,1]}},
     "y": {"field": "y", "type": "quantitative", "scale": {"domain": [0, 1], "nice": false}, "axis": {"orient": "right", "labels": false, "title": null, "values": [0,0.1,0.2,0.3,0.4,0.5,0.6,0.7,0.8,0.9,1]}}
    }},
   {"transform": [{"filter": "datum.g==='a'"}],
    "mark": {"type": "line"},
    "encoding": {
     "x": {"field": "x", "type": "quantitative", "scale": {"domain": [0, 1], "reverse": true, "nice": false}, "axis": {"title": "Specificity", "values": [0,0.1,0.2,0.3,0.4,0.5,0.6,0.7,0.8,0.9,1], "format": ".1~f"}},
     "y": {"field": "y", "type": "quantitative", "scale": {"domain": [0, 1], "nice": false}, "axis": {"title": "Sensitivity", "values": [0,0.1,0.2,0.3,0.4,0.5,0.6,0.7,0.8,0.9,1], "format": ".1~f"}},
     "color": {"field": "k", "type": "nominal",
      "scale": {"domain": ["CH","P01","P02","P03","P04","P05","P06","P07","P08","CB"], "range": ["#000000","#0000FF","#FF0000","#00FF00","#000033","#FF00CC","#FFC000","#005A00","#8080FF","#A0574A"]},
      "legend": {"title": null, "orient": "none", "legendX": 342, "legendY": 261, "strokeColor": "#505050", "fillColor": "white", "padding": 5, "labelOffset": 5, "symbolOffset": -1.5,
       "labelExpr": "{CH:'Chance line\u00a0\u00a0\u00a0\u00a0\u00a0\u00a0\u00a0AUC:',P01:'Patient 01:\u00a0\u00a0\u00a0\u00a0\u00a0\u00a0\u00a0\u00a0\u00a0\u00a00.80',P02:'Patient 02:\u00a0\u00a0\u00a0\u00a0\u00a0\u00a0\u00a0\u00a0\u00a0\u00a00.84',P03:'Patient 03:\u00a0\u00a0\u00a0\u00a0\u00a0\u00a0\u00a0\u00a0\u00a0\u00a00.71',P04:'Patient 04:\u00a0\u00a0\u00a0\u00a0\u00a0\u00a0\u00a0\u00a0\u00a0\u00a00.69',P05:'Patient 05:\u00a0\u00a0\u00a0\u00a0\u00a0\u00a0\u00a0\u00a0\u00a0\u00a00.72',P06:'Patient 06:\u00a0\u00a0\u00a0\u00a0\u00a0\u00a0\u00a0\u00a0\u00a0\u00a00.85',P07:'Patient 07:\u00a0\u00a0\u00a0\u00a0\u00a0\u00a0\u00a0\u00a0\u00a0\u00a00.93',P08:'Patient 08:\u00a0\u00a0\u00a0\u00a0\u00a0\u00a0\u00a0\u00a0\u00a0\u00a00.89',CB:'Combined:\u00a0\u00a0\u00a0\u00a0\u00a0\u00a0\u00a0\u00a0\u00a0\u00a00.72'}[datum.label]",
       "encoding": {"symbols": {"strokeWidth": {"value": {"expr": "(datum.value==='CB'?7:(datum.value==='CH'?1.5:3))"}}, "strokeDash": {"value": [1, 0]}}}}},
     "strokeWidth": {"condition": [{"test": "datum.k==='CB'", "value": 6}, {"test": "datum.k==='CH'", "value": 1.5}], "value": 3},
     "strokeDash": {"condition": {"test": "datum.k==='CB'", "value": [20, 10]}, "value": [1, 0]},
     "order": {"value": null}
    }},
   {"data": {"values": [{"t": "RM2-PET"}]},
    "mark": {"type": "text", "fontSize": 28, "align": "center", "baseline": "middle", "color": "black"},
    "encoding": {"x": {"datum": 0.196, "type": "quantitative", "axis": null}, "y": {"datum": 0.523, "type": "quantitative", "axis": null}, "text": {"field": "t"}}},
   {"data": {"values": [{"t": "a)"}]},
    "mark": {"type": "text", "fontSize": 50, "fontWeight": "bold", "align": "left", "baseline": "alphabetic", "color": "black"},
    "encoding": {"x": {"datum": 0.972, "type": "quantitative", "axis": null}, "y": {"datum": 0.901, "type": "quantitative", "axis": null}, "text": {"field": "t"}}}
  ],
  "resolve": {"axis": {"x": "independent", "y": "independent"}}
 },
 {
  "width": 555, "height": 497,
  "data": {"name": "roc"},
  "layer": [
   {"transform": [{"filter": "datum.g==='b' && datum.k==='CH'"}],
    "mark": {"type": "line", "color": "black", "strokeWidth": 1.5},
    "encoding": {
     "x": {"field": "x", "type": "quantitative", "scale": {"domain": [0, 1], "reverse": true, "nice": false}, "axis": {"orient": "top", "labels": false, "title": null, "values": [0,0.1,0.2,0.3,0.4,0.5,0.6,0.7,0.8,0.9,1]}},
     "y": {"field": "y", "type": "quantitative", "scale": {"domain": [0, 1], "nice": false}, "axis": {"orient": "right", "labels": false, "title": null, "values": [0,0.1,0.2,0.3,0.4,0.5,0.6,0.7,0.8,0.9,1]}}
    }},
   {"transform": [{"filter": "datum.g==='b'"}],
    "mark": {"type": "line"},
    "encoding": {
     "x": {"field": "x", "type": "quantitative", "scale": {"domain": [0, 1], "reverse": true, "nice": false}, "axis": {"title": "Specificity", "values": [0,0.1,0.2,0.3,0.4,0.5,0.6,0.7,0.8,0.9,1], "format": ".1~f"}},
     "y": {"field": "y", "type": "quantitative", "scale": {"domain": [0, 1], "nice": false}, "axis": {"title": "Sensitivity", "values": [0,0.1,0.2,0.3,0.4,0.5,0.6,0.7,0.8,0.9,1], "format": ".1~f"}},
     "color": {"field": "k", "type": "nominal",
      "scale": {"domain": ["CH","P01","P02","P03","P04","P05","P06","P07","P08","CB"], "range": ["#000000","#0000FF","#FF0000","#00FF00","#000033","#FF00CC","#FFC000","#005A00","#8080FF","#A0574A"]},
      "legend": {"title": null, "orient": "none", "legendX": 345, "legendY": 262, "strokeColor": "#505050", "fillColor": "white", "padding": 5, "labelOffset": 5, "symbolOffset": -1.5,
       "labelExpr": "{CH:'Chance line\u00a0\u00a0\u00a0\u00a0\u00a0\u00a0\u00a0AUC:',P01:'Patient 01:\u00a0\u00a0\u00a0\u00a0\u00a0\u00a0\u00a0\u00a0\u00a0\u00a00.76',P02:'Patient 02:\u00a0\u00a0\u00a0\u00a0\u00a0\u00a0\u00a0\u00a0\u00a0\u00a00.86',P03:'Patient 03:\u00a0\u00a0\u00a0\u00a0\u00a0\u00a0\u00a0\u00a0\u00a0\u00a00.89',P04:'Patient 04:\u00a0\u00a0\u00a0\u00a0\u00a0\u00a0\u00a0\u00a0\u00a0\u00a00.56',P05:'Patient 05:\u00a0\u00a0\u00a0\u00a0\u00a0\u00a0\u00a0\u00a0\u00a0\u00a00.80',P06:'Patient 06:\u00a0\u00a0\u00a0\u00a0\u00a0\u00a0\u00a0\u00a0\u00a0\u00a00.83',P07:'Patient 07:\u00a0\u00a0\u00a0\u00a0\u00a0\u00a0\u00a0\u00a0\u00a0\u00a00.95',P08:'Patient 08:\u00a0\u00a0\u00a0\u00a0\u00a0\u00a0\u00a0\u00a0\u00a0\u00a00.89',CB:'Combined:\u00a0\u00a0\u00a0\u00a0\u00a0\u00a0\u00a0\u00a0\u00a0\u00a00.86'}[datum.label]",
       "encoding": {"symbols": {"strokeWidth": {"value": {"expr": "(datum.value==='CB'?7:(datum.value==='CH'?1.5:3))"}}, "strokeDash": {"value": [1, 0]}}}}},
     "strokeWidth": {"condition": [{"test": "datum.k==='CB'", "value": 6}, {"test": "datum.k==='CH'", "value": 1.5}], "value": 3},
     "strokeDash": {"condition": {"test": "datum.k==='CB'", "value": [20, 10]}, "value": [1, 0]},
     "order": {"value": null}
    }},
   {"data": {"values": [{"t": "PSMA-PET"}]},
    "mark": {"type": "text", "fontSize": 28, "align": "center", "baseline": "middle", "color": "black"},
    "encoding": {"x": {"datum": 0.194, "type": "quantitative", "axis": null}, "y": {"datum": 0.523, "type": "quantitative", "axis": null}, "text": {"field": "t"}}},
   {"data": {"values": [{"t": "b)"}]},
    "mark": {"type": "text", "fontSize": 50, "fontWeight": "bold", "align": "left", "baseline": "alphabetic", "color": "black"},
    "encoding": {"x": {"datum": 0.972, "type": "quantitative", "axis": null}, "y": {"datum": 0.901, "type": "quantitative", "axis": null}, "text": {"field": "t"}}}
  ],
  "resolve": {"axis": {"x": "independent", "y": "independent"}}
 },
 {
  "width": 551, "height": 497,
  "data": {"name": "roc"},
  "layer": [
   {"transform": [{"filter": "datum.g==='c' && datum.k==='CH'"}],
    "mark": {"type": "line", "color": "black", "strokeWidth": 1.5},
    "encoding": {
     "x": {"field": "x", "type": "quantitative", "scale": {"domain": [0, 1], "reverse": true, "nice": false}, "axis": {"orient": "top", "labels": false, "title": null, "values": [0,0.1,0.2,0.3,0.4,0.5,0.6,0.7,0.8,0.9,1]}},
     "y": {"field": "y", "type": "quantitative", "scale": {"domain": [0, 1], "nice": false}, "axis": {"orient": "right", "labels": false, "title": null, "values": [0,0.1,0.2,0.3,0.4,0.5,0.6,0.7,0.8,0.9,1]}}
    }},
   {"transform": [{"filter": "datum.g==='c'"}],
    "mark": {"type": "line"},
    "encoding": {
     "x": {"field": "x", "type": "quantitative", "scale": {"domain": [0, 1], "reverse": true, "nice": false}, "axis": {"title": "Specificity", "values": [0,0.1,0.2,0.3,0.4,0.5,0.6,0.7,0.8,0.9,1], "format": ".1~f"}},
     "y": {"field": "y", "type": "quantitative", "scale": {"domain": [0, 1], "nice": false}, "axis": {"title": "Sensitivity", "values": [0,0.1,0.2,0.3,0.4,0.5,0.6,0.7,0.8,0.9,1], "format": ".1~f"}},
     "color": {"field": "k", "type": "nominal",
      "scale": {"domain": ["CH","P01","P02","P03","P04","P05","P06","P07","P08","CB"], "range": ["#000000","#0000FF","#FF0000","#00FF00","#000033","#FF00CC","#FFC000","#005A00","#8080FF","#A0574A"]},
      "legend": {"title": null, "orient": "none", "legendX": 342, "legendY": 262, "strokeColor": "#505050", "fillColor": "white", "padding": 5, "labelOffset": 5, "symbolOffset": -1.5,
       "labelExpr": "{CH:'Chance line\u00a0\u00a0\u00a0\u00a0\u00a0\u00a0\u00a0AUC:',P01:'Patient 01:\u00a0\u00a0\u00a0\u00a0\u00a0\u00a0\u00a0\u00a0\u00a0\u00a00.79',P02:'Patient 02:\u00a0\u00a0\u00a0\u00a0\u00a0\u00a0\u00a0\u00a0\u00a0\u00a00.88',P03:'Patient 03:\u00a0\u00a0\u00a0\u00a0\u00a0\u00a0\u00a0\u00a0\u00a0\u00a00.90',P04:'Patient 04:\u00a0\u00a0\u00a0\u00a0\u00a0\u00a0\u00a0\u00a0\u00a0\u00a00.65',P05:'Patient 05:\u00a0\u00a0\u00a0\u00a0\u00a0\u00a0\u00a0\u00a0\u00a0\u00a00.81',P06:'Patient 06:\u00a0\u00a0\u00a0\u00a0\u00a0\u00a0\u00a0\u00a0\u00a0\u00a00.90',P07:'Patient 07:\u00a0\u00a0\u00a0\u00a0\u00a0\u00a0\u00a0\u00a0\u00a0\u00a00.94',P08:'Patient 08:\u00a0\u00a0\u00a0\u00a0\u00a0\u00a0\u00a0\u00a0\u00a0\u00a00.92',CB:'Combined:\u00a0\u00a0\u00a0\u00a0\u00a0\u00a0\u00a0\u00a0\u00a0\u00a00.85'}[datum.label]",
       "encoding": {"symbols": {"strokeWidth": {"value": {"expr": "(datum.value==='CB'?7:(datum.value==='CH'?1.5:3))"}}, "strokeDash": {"value": [1, 0]}}}}},
     "strokeWidth": {"condition": [{"test": "datum.k==='CB'", "value": 6}, {"test": "datum.k==='CH'", "value": 1.5}], "value": 3},
     "strokeDash": {"condition": {"test": "datum.k==='CB'", "value": [20, 10]}, "value": [1, 0]},
     "order": {"value": null}
    }},
   {"data": {"values": [{"t": "RM2-PET + PSMA-PET"}]},
    "mark": {"type": "text", "fontSize": 18, "align": "center", "baseline": "middle", "color": "black"},
    "encoding": {"x": {"datum": 0.199, "type": "quantitative", "axis": null}, "y": {"datum": 0.511, "type": "quantitative", "axis": null}, "text": {"field": "t"}}},
   {"data": {"values": [{"t": "c)"}]},
    "mark": {"type": "text", "fontSize": 50, "fontWeight": "bold", "align": "left", "baseline": "alphabetic", "color": "black"},
    "encoding": {"x": {"datum": 0.972, "type": "quantitative", "axis": null}, "y": {"datum": 0.901, "type": "quantitative", "axis": null}, "text": {"field": "t"}}}
  ],
  "resolve": {"axis": {"x": "independent", "y": "independent"}}
 },
 {
  "width": 555, "height": 497,
  "data": {"name": "roc"},
  "layer": [
   {"transform": [{"filter": "datum.g==='d' && datum.k==='CH'"}],
    "mark": {"type": "line", "color": "black", "strokeWidth": 1.5},
    "encoding": {
     "x": {"field": "x", "type": "quantitative", "scale": {"domain": [0, 1], "reverse": true, "nice": false}, "axis": {"orient": "top", "labels": false, "title": null, "values": [0,0.1,0.2,0.3,0.4,0.5,0.6,0.7,0.8,0.9,1]}},
     "y": {"field": "y", "type": "quantitative", "scale": {"domain": [0, 1], "nice": false}, "axis": {"orient": "right", "labels": false, "title": null, "values": [0,0.1,0.2,0.3,0.4,0.5,0.6,0.7,0.8,0.9,1]}}
    }},
   {"transform": [{"filter": "datum.g==='d'"}],
    "mark": {"type": "line"},
    "encoding": {
     "x": {"field": "x", "type": "quantitative", "scale": {"domain": [0, 1], "reverse": true, "nice": false}, "axis": {"title": "Specificity", "values": [0,0.1,0.2,0.3,0.4,0.5,0.6,0.7,0.8,0.9,1], "format": ".1~f"}},
     "y": {"field": "y", "type": "quantitative", "scale": {"domain": [0, 1], "nice": false}, "axis": {"title": "Sensitivity", "values": [0,0.1,0.2,0.3,0.4,0.5,0.6,0.7,0.8,0.9,1], "format": ".1~f"}},
     "color": {"field": "k", "type": "nominal",
      "scale": {"domain": ["CH","PSMA","RM2","SUM"], "range": ["#000000","#0000FF","#FF0000","#00FF00"]},
      "legend": {"title": "Averaged ROC-Curves", "titleFontSize": 18, "titleFontWeight": "normal", "titleColor": "#222222", "titlePadding": 12, "orient": "none", "legendX": 351, "legendY": 345, "padding": 0, "labelOffset": 2, "symbolOffset": -2,
       "labelExpr": "{CH:'Chance line\u00a0\u00a0\u00a0\u00a0\u00a0\u00a0AUC:',PSMA:'PSMA :\u00a0\u00a0\u00a0\u00a0\u00a0\u00a0\u00a0\u00a0\u00a0\u00a0\u00a0\u00a0\u00a00.82',RM2:'RM2 :\u00a0\u00a0\u00a0\u00a0\u00a0\u00a0\u00a0\u00a0\u00a0\u00a0\u00a0\u00a0\u00a0\u00a0\u00a0\u00a00.80',SUM:'SUM :\u00a0\u00a0\u00a0\u00a0\u00a0\u00a0\u00a0\u00a0\u00a0\u00a0\u00a0\u00a0\u00a0\u00a0\u00a00.85'}[datum.label]",
       "encoding": {"symbols": {"strokeWidth": {"value": {"expr": "(datum.value==='CH'?1.5:7)"}}, "strokeDash": {"value": [1, 0]}}}}},
     "strokeWidth": {"condition": {"test": "datum.k==='CH'", "value": 1.5}, "value": 6},
     "order": {"value": null}
    }},
   {"data": {"values": [{"t": "d)"}]},
    "mark": {"type": "text", "fontSize": 50, "fontWeight": "bold", "align": "left", "baseline": "alphabetic", "color": "black"},
    "encoding": {"x": {"datum": 0.972, "type": "quantitative", "axis": null}, "y": {"datum": 0.887, "type": "quantitative", "axis": null}, "text": {"field": "t"}}}
  ],
  "resolve": {"axis": {"x": "independent", "y": "independent"}}
 }
]
}
